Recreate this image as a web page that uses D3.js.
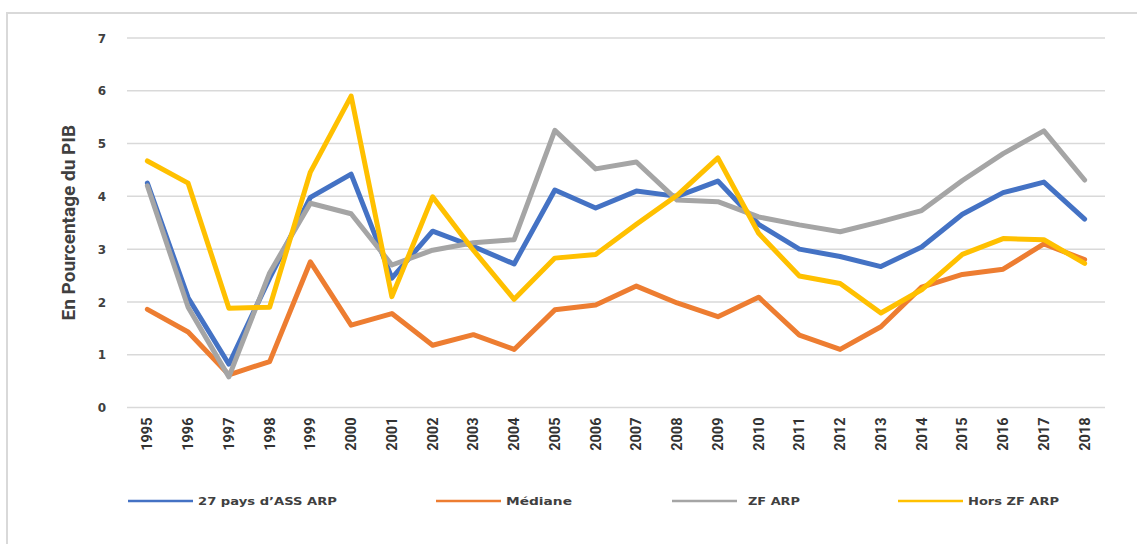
<!DOCTYPE html>
<html>
<head>
<meta charset="utf-8">
<script src="https://cdn.jsdelivr.net/npm/d3@7"></script>
<style>
  html, body { margin: 0; padding: 0; background: #ffffff; }
  svg { display: block; }
</style>
</head>
<body>
<svg id="chart" width="1137" height="544"></svg>
<script>
const years = ["1995","1996","1997","1998","1999","2000","2001","2002","2003","2004","2005","2006","2007","2008","2009","2010","2011","2012","2013","2014","2015","2016","2017","2018"];
const assArp = [4.25, 2.08, 0.82, 2.45, 3.98, 4.42, 2.45, 3.34, 3.05, 2.72, 4.12, 3.78, 4.10, 4.00, 4.29, 3.47, 3.00, 2.86, 2.67, 3.04, 3.66, 4.07, 4.27, 3.57];
const mediane = [1.86, 1.43, 0.62, 0.87, 2.76, 1.56, 1.78, 1.18, 1.38, 1.10, 1.85, 1.94, 2.30, 1.98, 1.72, 2.09, 1.37, 1.10, 1.53, 2.28, 2.52, 2.62, 3.10, 2.80];
const zfArp = [4.20, 1.90, 0.58, 2.55, 3.87, 3.67, 2.70, 2.98, 3.12, 3.18, 5.25, 4.52, 4.65, 3.93, 3.90, 3.61, 3.46, 3.33, 3.52, 3.73, 4.30, 4.81, 5.24, 4.31];
const horsZfArp = [4.67, 4.25, 1.88, 1.90, 4.46, 5.90, 2.10, 3.99, 2.98, 2.05, 2.83, 2.90, 3.47, 4.02, 4.73, 3.30, 2.49, 2.35, 1.79, 2.23, 2.90, 3.20, 3.18, 2.73];
const yTicks = [0, 1, 2, 3, 4, 5, 6, 7];
const seriesNames = ["27 pays d\u2019ASS ARP", "M\u00e9diane", "ZF ARP", "Hors ZF ARP"];
const seriesColors = ["#4472C4", "#ED7D31", "#A5A5A5", "#FFC000"];
const yTitle = "En Pourcentage du PIB";

const series = [assArp, mediane, zfArp, horsZfArp].map((vals, i) => ({
  name: seriesNames[i], color: seriesColors[i], values: vals
}));

const svg = d3.select("#chart");

// outer frame
svg.append("rect")
  .attr("x", 7).attr("y", 13).attr("width", 1145).attr("height", 545)
  .attr("fill", "none").attr("stroke", "#d9d9d9").attr("stroke-width", 2);

const plot = { left: 127, right: 1105, top: 38, bottom: 407.5 };

const x = d3.scaleBand().domain(years).range([plot.left, plot.right]);
const y = d3.scaleLinear().domain([0, 7]).range([plot.bottom, plot.top]);

// gridlines
svg.append("g").selectAll("line").data(yTicks).join("line")
  .attr("x1", plot.left).attr("x2", plot.right)
  .attr("y1", d => y(d)).attr("y2", d => y(d))
  .attr("stroke", "#d9d9d9").attr("stroke-width", 1.5);

// y axis labels
const yAxis = d3.axisLeft(y).tickValues(yTicks).tickFormat(d3.format("d")).tickSize(0).tickPadding(0);
const gy = svg.append("g").attr("transform", `translate(106,0)`).call(yAxis);
gy.select(".domain").remove();
gy.selectAll("text")
  .attr("font-family", "'DejaVu Sans', sans-serif")
  .attr("font-weight", "bold")
  .attr("font-size", 12)
  .attr("fill", "#404040")
  .attr("dy", "0.35em");

// x axis labels (rotated)
const xAxis = d3.axisBottom(x).tickSize(0).tickPadding(0);
const gx = svg.append("g").attr("transform", `translate(0,${plot.bottom})`).call(xAxis);
gx.select(".domain").remove();
gx.selectAll("text")
  .attr("font-family", "Roboto, 'Liberation Sans', sans-serif")
  .attr("font-weight", "bold")
  .attr("font-size", 14.5)
  .attr("fill", "#333333")
  .attr("text-anchor", "end")
  .attr("transform", "rotate(-90)")
  .attr("x", -10)
  .attr("y", 0)
  .attr("dy", "0.35em");

// y title
svg.append("text")
  .attr("transform", `translate(75,${(plot.top + plot.bottom) / 2}) rotate(-90)`)
  .attr("text-anchor", "middle")
  .attr("font-family", "Roboto, 'Liberation Sans', sans-serif")
  .attr("font-weight", "bold")
  .attr("font-size", 19)
  .attr("fill", "#404040")
  .text(yTitle);

// lines
const line = d3.line()
  .x((d, i) => x(years[i]) + x.bandwidth() / 2)
  .y(d => y(d));

svg.append("g").selectAll("path").data(series).join("path")
  .attr("d", d => line(d.values))
  .attr("fill", "none")
  .attr("stroke", d => d.color)
  .attr("stroke-width", 5)
  .attr("stroke-linejoin", "round")
  .attr("stroke-linecap", "round");

// legend
const legendX = [128, 436, 672, 898];
const legendTextW = [139, 66, 52, 91];
const legendY = 501;
const lg = svg.append("g").selectAll("g").data(series).join("g")
  .attr("transform", (d, i) => `translate(${legendX[i]},${legendY})`);
lg.append("line")
  .attr("x1", 0).attr("x2", 65).attr("y1", 0).attr("y2", 0)
  .attr("stroke", d => d.color).attr("stroke-width", 2.5);
lg.append("text")
  .attr("x", (d, i) => i === 2 ? 76 : 70)
  .attr("y", 0)
  .attr("dy", "0.35em")
  .attr("font-family", "'DejaVu Sans', sans-serif")
  .attr("font-weight", "bold")
  .attr("font-size", 11)
  .attr("fill", "#404040")
  .attr("textLength", (d, i) => legendTextW[i])
  .attr("lengthAdjust", "spacingAndGlyphs")
  .text(d => d.name);
</script>
</body>
</html>
